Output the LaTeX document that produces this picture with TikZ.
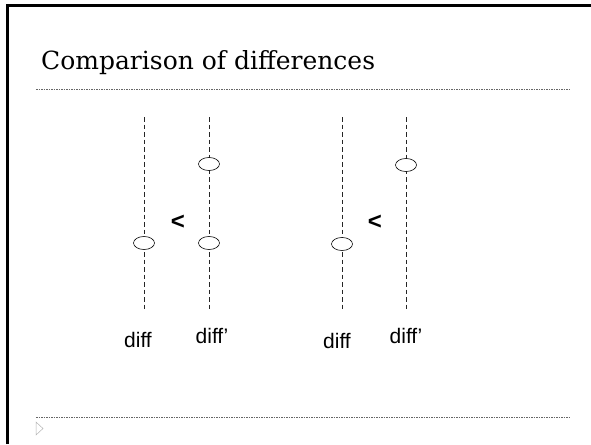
\documentclass[tikz,border=0pt]{standalone}
\usepackage{fontspec}
\newfontfamily\arial{Liberation Sans}
\newfontfamily\titlefont{DejaVu Serif}
\usetikzlibrary{shapes.geometric}

\tikzset{
  ring/.style={ellipse, draw, fill=white, minimum width=21pt, minimum height=13pt, inner sep=0pt, line width=0.6pt},
  axis/.style={dash pattern=on 4.5pt off 3pt, line width=1pt, black!85},
  lbl/.style={font=\arial\fontsize{21}{24}\selectfont, inner sep=0pt, anchor=base},
  less/.style={font=\arial\bfseries\fontsize{24}{26}\selectfont, inner sep=0pt},
  rule/.style={dash pattern=on 1.5pt off 1pt, line width=0.6pt, black!60}
}

\begin{document}
\begin{tikzpicture}[x=1pt,y=-1pt]
\useasboundingbox (0,0) rectangle (591,444);
% slide frame, title and rules
\draw[line width=3pt] (7.5,444) -- (7.5,6) -- (591,6);
\node[anchor=base west, inner sep=0pt, font=\titlefont\fontsize{25}{28}\selectfont] (title) at (41,70) {Comparison of differences};
\draw[rule] (36,89) -- (570,89);
\draw[rule] (36,417) -- (570,417);
\draw[black!30, line width=0.5pt] (36,422) -- (43,428.5) -- (36,435) -- cycle;
% the four scales
\foreach \n/\x in {a/144, b/209, c/342, d/406} {
  \coordinate (\n top) at (\x,117);
  \coordinate (\n bot) at (\x,310);
  \draw[axis] (\n top) -- (\n bot);
}
\node[ring] (a1) at (144,243) {};
\node[ring] (b1) at (209,164) {};
\node[ring] (b2) at (209,243) {};
\node[ring] (c1) at (342,244) {};
\node[ring] (d1) at (406,165) {};
\node[less] (lt1) at (178,222) {<};
\node[less] (lt2) at (375,222) {<};
% labels
\node[lbl] (da) at (138,347) {diff};
\node[lbl] (db) at (212,343) {diff’};
\node[lbl] (dc) at (337,348) {diff};
\node[lbl] (dd) at (406,343) {diff’};
\end{tikzpicture}
\end{document}
